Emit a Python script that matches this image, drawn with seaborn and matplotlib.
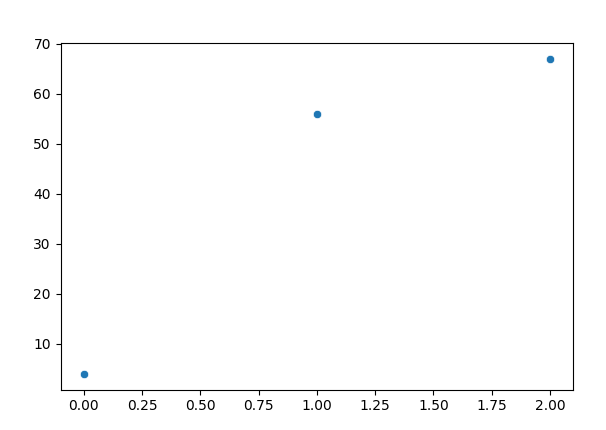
import numpy as np
import seaborn as sns
import matplotlib.pyplot as plt
import pandas as pd

x_vals = [0, 1, 2]
y_vals = [4, 56, 67]

df = pd.DataFrame({"x": x_vals, "y": y_vals})

fig = plt.figure(figsize=(6.06, 4.30), dpi=100)
ax = fig.add_subplot(111)
sns.scatterplot(data=df, x="x", y="y", ax=ax)
ax.set_xlabel("")
ax.set_ylabel("")
fig.subplots_adjust(left=0.1, right=0.946, top=0.9, bottom=0.094)
fig.savefig("out.png", dpi=100)
